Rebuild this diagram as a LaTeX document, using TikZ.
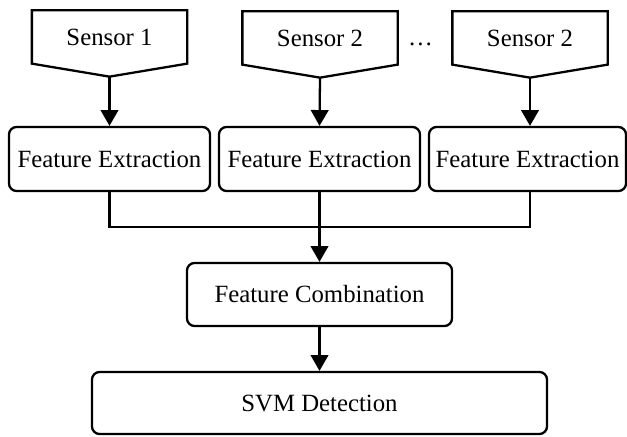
\documentclass[tikz,border=0pt]{standalone}
\usepackage{fontspec}
\setmainfont{Liberation Serif}
\usetikzlibrary{arrows.meta,calc}

\begin{document}
\begin{tikzpicture}[
        line width=1.3pt,
        txt/.style={font=\fontsize{14.1}{17}\selectfont},
        sensor/.style={txt, inner sep=0pt, minimum width=3.06cm, minimum height=1.02cm},
        sensor_edge/.style={line join=miter},
        block/.style={txt, draw, rounded corners=0.15cm, inner sep=0pt, minimum height=1.28cm, minimum width=4.02cm},
        flow/.style={-{Triangle[width=10pt,length=9pt]}}
    ]
    \useasboundingbox (0,0) rectangle (12.54,-8.72);

    % Sensors
    \node[sensor] (S1) at (2.19,-0.74) {Sensor 1};
    \node[sensor] (S2) at (6.40,-0.76) {Sensor 2};
    \node[sensor] (S3) at (10.60,-0.76) {Sensor 2};
    \node[txt, inner sep=0pt] (dots) at (8.41,-0.88) {\ldots};

    \foreach \s in {S1,S2,S3} {
        \coordinate (\s-tip) at ($(\s.south)+(0,-0.26)$);
        \draw[sensor_edge] (\s.north west) -- (\s.north east) -- (\s.south east)
            -- (\s-tip) -- (\s.south west) -- cycle;
    }

    % Feature extraction
    \node[block] (FE1) at (2.19,-3.18) {Feature Extraction};
    \node[block] (FE2) at (6.39,-3.18) {Feature Extraction};
    \node[block, minimum width=3.94cm] (FE3) at (10.55,-3.18) {Feature Extraction};

    \draw[flow] (S1-tip) -- (FE1.north);
    \draw[flow] (S2-tip) -- (FE2.north);
    \draw[flow] (S3-tip) -- (S3-tip |- FE3.north);

    % Combination and detection
    \node[block, minimum width=5.30cm, minimum height=1.26cm] (FC) at (6.39,-5.89) {Feature Combination};
    \node[block, minimum width=9.10cm, minimum height=1.24cm] (SVM) at (6.39,-8.06) {SVM Detection};

    \coordinate (J) at (6.39,-4.54);
    \coordinate (F3) at (S3-tip |- FE3.south);
    \draw (FE1.south) |- (J) -| (F3);
    \draw[flow] (FE2.south) -- (FC.north);
    \draw[flow] (FC.south) -- (SVM.north);

\end{tikzpicture}
\end{document}
